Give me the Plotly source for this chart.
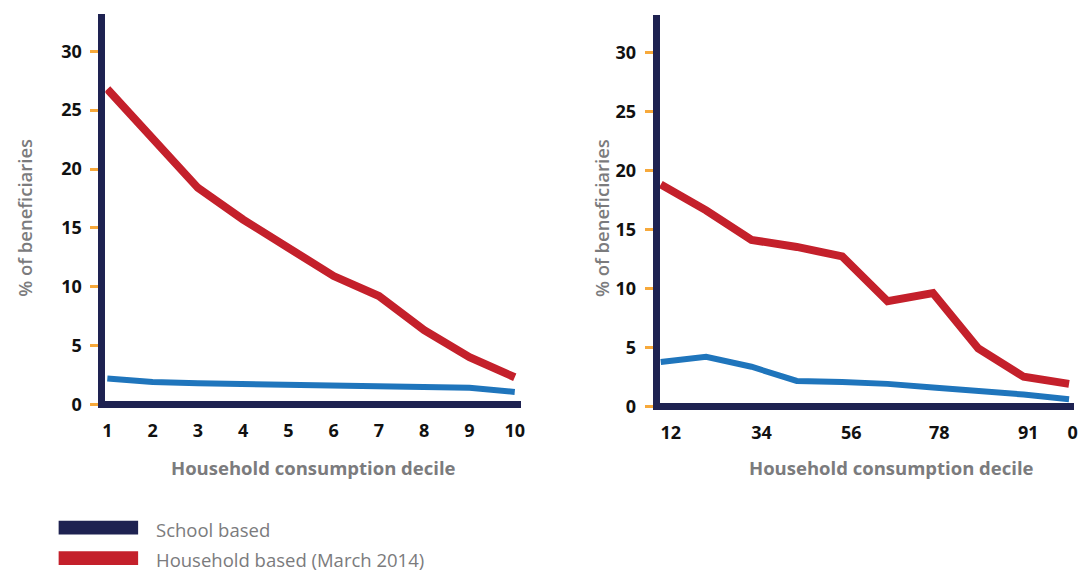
import plotly.graph_objects as go

# Household consumption deciles (both panels share the same ten groups)
deciles = [1, 2, 3, 4, 5, 6, 7, 8, 9, 10]

# Left panel: % of beneficiaries by decile
left_school = [2.2, 1.9, 1.8, 1.75, 1.7, 1.6, 1.5, 1.45, 1.4, 1.05]
left_household = [26.8, 22.5, 18.4, 15.7, 13.2, 10.9, 9.2, 6.3, 4.0, 2.3]

# Right panel: % of beneficiaries by decile
right_school = [3.75, 4.2, 3.35, 2.15, 2.05, 1.9, 1.6, 1.35, 1.0, 0.6]
right_household = [18.8, 16.6, 14.1, 13.5, 12.7, 8.9, 9.6, 4.9, 2.5, 1.9]

# Tick labels
left_tick_text = ["1", "2", "3", "4", "5", "6", "7", "8", "9", "10"]
right_tick_vals = [1.22, 3.22, 5.2, 7.14, 9.1, 10.08]
right_tick_text = ["12", "34", "56", "78", "91", "0"]
y_ticks = [0, 5, 10, 15, 20, 25, 30]

series_names = ["School based", "Household based (March 2014)"]

NAVY = "#1e2251"
RED = "#c4202b"
BLUE = "#1f75bc"
ORANGE = "#f7a93b"
GREY = "#7b7b7d"
FONT = "Open Sans"

W, H = 1084, 577

fig = go.Figure()

fig.add_trace(go.Scatter(x=deciles, y=left_household, mode="lines",
                         line=dict(color=RED, width=8), xaxis="x", yaxis="y",
                         showlegend=False, name=series_names[1]))
fig.add_trace(go.Scatter(x=deciles, y=left_school, mode="lines",
                         line=dict(color=BLUE, width=6), xaxis="x", yaxis="y",
                         showlegend=False, name=series_names[0]))
fig.add_trace(go.Scatter(x=deciles, y=right_household, mode="lines",
                         line=dict(color=RED, width=8), xaxis="x2", yaxis="y2",
                         showlegend=False, name=series_names[1]))
fig.add_trace(go.Scatter(x=deciles, y=right_school, mode="lines",
                         line=dict(color=BLUE, width=6), xaxis="x2", yaxis="y2",
                         showlegend=False, name=series_names[0]))

tick_font = dict(family=FONT, size=18, color="#111111", weight="bold")

def yaxis_style(domain, rng, anchor):
    return dict(
        domain=domain, range=rng, tickvals=y_ticks, anchor=anchor,
        showgrid=False, zeroline=True, zerolinecolor=NAVY, zerolinewidth=7,
        showline=True, linecolor=NAVY, linewidth=7,
        ticks="outside", ticklen=8, tickwidth=3, tickcolor=ORANGE,
        tickfont=tick_font, ticklabelstandoff=5, fixedrange=True,
    )

def xaxis_style(domain, rng, anchor, vals, text):
    return dict(
        domain=domain, range=rng, anchor=anchor,
        tickvals=vals, ticktext=text, ticks="",
        showgrid=False, zeroline=False, showline=False,
        tickfont=tick_font, ticklabelstandoff=10, fixedrange=True,
    )

fig.update_layout(
    width=W, height=H,
    margin=dict(l=0, r=0, t=0, b=0),
    paper_bgcolor="white", plot_bgcolor="white",
    xaxis=xaxis_style([103 / W, 521 / W], [0.956, 10.13], "y", deciles, left_tick_text),
    yaxis=yaxis_style([1 - 413.6 / H, 1 - 14 / H], [-0.3, 33.19], "x"),
    xaxis2=xaxis_style([661 / W, 1078 / W], [0.978, 10.11], "y2", right_tick_vals, right_tick_text),
    yaxis2=yaxis_style([1 - 415.6 / H, 1 - 15 / H], [-0.3, 33.17], "x2"),
)

# Axis titles
title_font_x = dict(family=FONT, size=18.5, color=GREY, weight="bold")
title_font_y = dict(family=FONT, size=18.5, color=GREY, weight=600)
for cx in (313, 894.5):
    fig.add_annotation(x=cx / W, y=1 - 474 / H, xref="paper", yref="paper",
                       text="Household consumption decile", showarrow=False,
                       font=title_font_x, xanchor="center", yanchor="middle")
for cx in (22, 603):
    fig.add_annotation(x=cx / W, y=1 - 221 / H, xref="paper", yref="paper",
                       text="% of beneficiaries", textangle=-90, showarrow=False,
                       font=title_font_y, xanchor="center", yanchor="middle")

# Legend: colour swatches with labels
legend_colors = [NAVY, RED]
legend_rows = [(528, 542), (559, 573)]
for name, color, (y0, y1) in zip(series_names, legend_colors, legend_rows):
    fig.add_shape(type="rect", xref="paper", yref="paper",
                  x0=56 / W, x1=136 / W, y0=1 - y1 / H, y1=1 - y0 / H,
                  fillcolor=color, line=dict(width=0))
    fig.add_annotation(x=152 / W, y=1 - ((y0 + y1) / 2 + 1.5) / H, xref="paper", yref="paper",
                       text=name, showarrow=False, xanchor="left", yanchor="middle",
                       font=dict(family=FONT, size=18.5, color=GREY))

fig.write_html("out.html", config={"displayModeBar": False})
